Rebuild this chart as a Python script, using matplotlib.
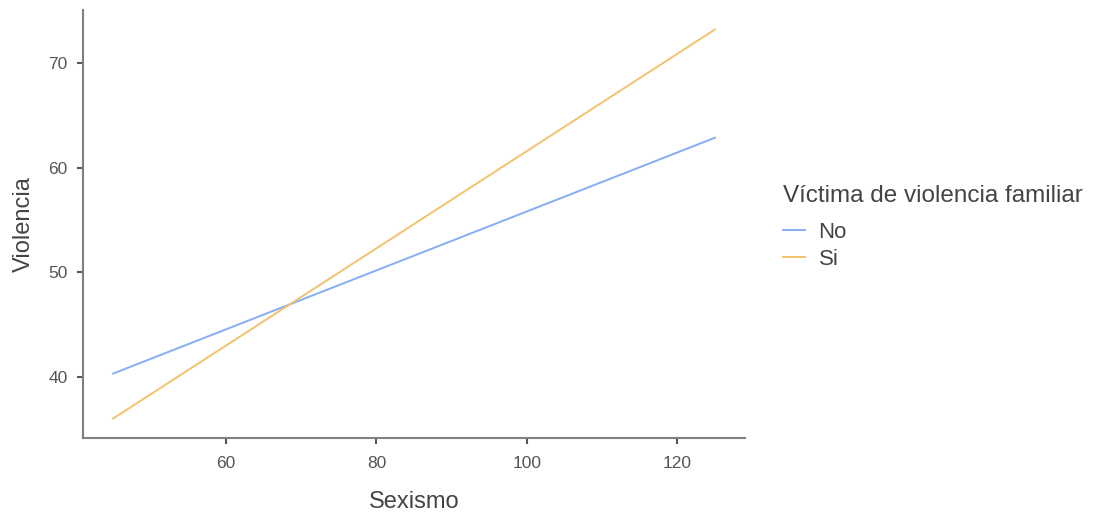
import numpy as np
import matplotlib
matplotlib.use("Agg")
from matplotlib import pyplot as plt

plt.rcParams['font.family'] = ['Liberation Sans', 'DejaVu Sans']

# fitted lines: Sexismo vs Violencia, by group
sexismo = [45, 125]
groups = ['No', 'Si']
violencia = {
    'No': [40.3, 62.85],
    'Si': [36.0, 73.2],
}
colors = {'No': '#86aef2', 'Si': '#f2c26e'}

fig = plt.figure(figsize=(10.94, 5.15), dpi=100)
ax = fig.add_axes([0.0759, 0.1495, 0.6051, 0.831])

for g in groups:
    ax.plot(sexismo, violencia[g], color=colors[g], lw=1.4, label=g)

ax.set_xlim(41, 129)
ax.set_ylim(34.14, 75.06)
ax.set_xticks([60, 80, 100, 120])
ax.set_yticks([40, 50, 60, 70])

for s in ['top', 'right']:
    ax.spines[s].set_visible(False)
for s in ['left', 'bottom']:
    ax.spines[s].set_color('#808080')
    ax.spines[s].set_linewidth(1.5)
ax.tick_params(colors='#555555', labelsize=12.5, width=1.5, length=4, labelcolor='#555555')
ax.tick_params(axis='x', pad=9)
ax.tick_params(axis='y', pad=7)

ax.set_xlabel('Sexismo', fontsize=17, color='#444444', labelpad=14)
ax.set_ylabel('Violencia', fontsize=17, color='#444444', labelpad=9.5)

leg = fig.legend(*ax.get_legend_handles_labels(),
                 title='Víctima de violencia familiar', loc='upper left',
                 bbox_to_anchor=(783 / 1094, 1 - 185 / 515), frameon=False, fontsize=16,
                 title_fontsize=17.5, handlelength=1.0, handletextpad=0.6,
                 labelspacing=0.29, borderaxespad=0, borderpad=0)
leg._legend_box.align = 'left'
leg._legend_box.sep = 10.5
for t in leg.get_texts():
    t.set_color('#444444')
leg.get_title().set_color('#444444')

fig.savefig('out.png', dpi=100)
